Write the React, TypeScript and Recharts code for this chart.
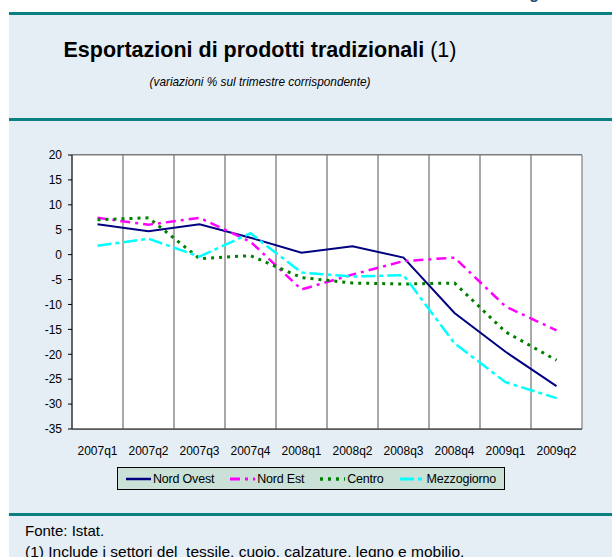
import * as React from "react";
import { CartesianGrid, Line, LineChart, ReferenceLine, XAxis, YAxis } from "recharts";

// Export growth of traditional products by macro area, yoy % changes.

const quarters = [
  "2007q1", "2007q2", "2007q3", "2007q4", "2008q1",
  "2008q2", "2008q3", "2008q4", "2009q1", "2009q2",
];
const nordOvest = [6.1, 4.7, 6.1, 3.4, 0.4, 1.7, -0.6, -11.7, -19.5, -26.4];
const nordEst = [7.4, 6.0, 7.4, 2.6, -7.0, -4.0, -1.3, -0.6, -10.4, -15.2];
const centro = [7.0, 7.4, -0.8, -0.2, -4.6, -5.7, -5.9, -5.7, -15.5, -21.2];
const mezzogiorno = [1.8, 3.2, -0.4, 4.3, -3.6, -4.4, -4.1, -17.8, -25.6, -28.8];
const yTicks = [20, 15, 10, 5, 0, -5, -10, -15, -20, -25, -30, -35];

const SERIES = [
  { key: "nordOvest", name: "Nord Ovest", color: "#000080", dash: undefined, width: 2 },
  { key: "nordEst", name: "Nord Est", color: "#ff00ff", dash: "10 5 3 5", width: 2.5 },
  { key: "centro", name: "Centro", color: "#008000", dash: "3 5", width: 3 },
  { key: "mezzogiorno", name: "Mezzogiorno", color: "#00ffff", dash: "14 4 4 4", width: 2.5 },
];

const rows = quarters.map((q, i) => ({
  idx: i,
  label: q,
  nordOvest: nordOvest[i],
  nordEst: nordEst[i],
  centro: centro[i],
  mezzogiorno: mezzogiorno[i],
}));

const boundaries = quarters.slice(1).map((_, i) => i + 0.5);

const FONT = "'Liberation Sans', Arial, sans-serif";
const TEAL = "#0b8080";
const PANEL = "#e5eef5";

export default function App() {
  return (
    <div
      style={{
        position: "absolute",
        left: 0,
        top: 0,
        width: 612,
        height: 557,
        overflow: "hidden",
        background: "#ffffff",
        fontFamily: FONT,
      }}
    >
      <div
        style={{
          position: "absolute",
          right: 48,
          top: -15,
          fontSize: 16,
          lineHeight: "18px",
          fontWeight: "bold",
          color: "#1f4e79",
        }}
      >
        Figura
      </div>
      <div style={{ position: "absolute", left: 9, top: 15, right: 0, bottom: 0, background: PANEL }} />
      <div style={{ position: "absolute", left: 9, top: 12, right: 0, height: 3, background: TEAL }} />
      <div style={{ position: "absolute", left: 9, top: 118, right: 0, height: 3, background: TEAL }} />
      <div style={{ position: "absolute", left: 9, top: 513, right: 0, height: 3, background: TEAL }} />

      <div
        style={{
          position: "absolute",
          left: 0,
          width: 520,
          top: 38,
          textAlign: "center",
          fontSize: 21.5,
          color: "#000",
          whiteSpace: "nowrap",
        }}
      >
        <span style={{ fontWeight: "bold" }}>Esportazioni di prodotti tradizionali</span> (1)
      </div>
      <div
        style={{
          position: "absolute",
          left: 0,
          width: 520,
          top: 74,
          textAlign: "center",
          fontSize: 13,
          fontStyle: "italic",
          color: "#000",
          transform: "scaleX(0.91)",
        }}
      >
        (variazioni % sul trimestre corrispondente)
      </div>

      <div style={{ position: "absolute", left: 0, top: 140 }}>
        <LineChart
          width={612}
          height={320}
          data={rows}
          margin={{ top: 15, right: 30, left: 12, bottom: 1 }}
        >
          <rect x={72} y={15} width={510} height={274} fill="#ffffff" />
          <CartesianGrid vertical={false} stroke="#000000" strokeWidth={1} />
          {boundaries.map((b) => (
            <ReferenceLine key={b} x={b} stroke="#707070" strokeWidth={1.2} />
          ))}
          <ReferenceLine x={9.5} stroke="#808080" strokeWidth={1.2} />
          <ReferenceLine y={20} stroke="#808080" strokeWidth={1.2} />
          <XAxis
            dataKey="idx"
            type="number"
            domain={[-0.5, 9.5]}
            ticks={quarters.map((_, i) => i)}
            tickFormatter={(v: number) => quarters[v]}
            interval={0}
            height={30}
            tickSize={6}
            tickMargin={11}
            tickLine={false}
            axisLine={{ stroke: "#555555", strokeWidth: 1.5 }}
            tick={{ fontSize: 12, fill: "#000", fontFamily: FONT }}
          />
          <YAxis
            domain={[-35, 20]}
            ticks={yTicks}
            interval={0}
            width={60}
            tickSize={4}
            tickMargin={6}
            tickLine={{ stroke: "#000" }}
            axisLine={{ stroke: "#333333", strokeWidth: 1.5 }}
            tick={{ fontSize: 12, fill: "#000", fontFamily: FONT }}
          />
          {SERIES.map((s) => (
            <Line
              key={s.key}
              type="linear"
              dataKey={s.key}
              name={s.name}
              stroke={s.color}
              strokeWidth={s.width}
              strokeDasharray={s.dash}
              dot={false}
              activeDot={false}
              isAnimationActive={false}
            />
          ))}
        </LineChart>
      </div>

      <div
        style={{
          position: "absolute",
          left: 117,
          top: 467,
          width: 386,
          height: 21,
          background: "#c9e1d7",
          border: "1px solid #000",
          display: "flex",
          alignItems: "center",
          fontSize: 12.5,
          color: "#000",
        }}
      >
        {SERIES.map((s, i) => (
          <div
            key={s.key}
            style={{
              display: "flex",
              alignItems: "center",
              marginLeft: i === 0 ? 8 : 16,
              letterSpacing: -0.2,
            }}
          >
            <svg width={25} height={6} style={{ marginRight: 2 }}>
              <line
                x1={0}
                y1={3}
                x2={25}
                y2={3}
                stroke={s.color}
                strokeWidth={s.width + 0.5}
                strokeDasharray={s.dash}
              />
            </svg>
            {s.name}
          </div>
        ))}
      </div>

      <div style={{ position: "absolute", left: 25, top: 522, fontSize: 15, color: "#000" }}>
        Fonte: Istat.
      </div>
      <div
        style={{
          position: "absolute",
          left: 25,
          top: 543,
          fontSize: 15.5,
          color: "#000",
          whiteSpace: "pre",
        }}
      >
        {"(1) Include i settori del  tessile, cuoio, calzature, legno e mobilio."}
      </div>
    </div>
  );
}
